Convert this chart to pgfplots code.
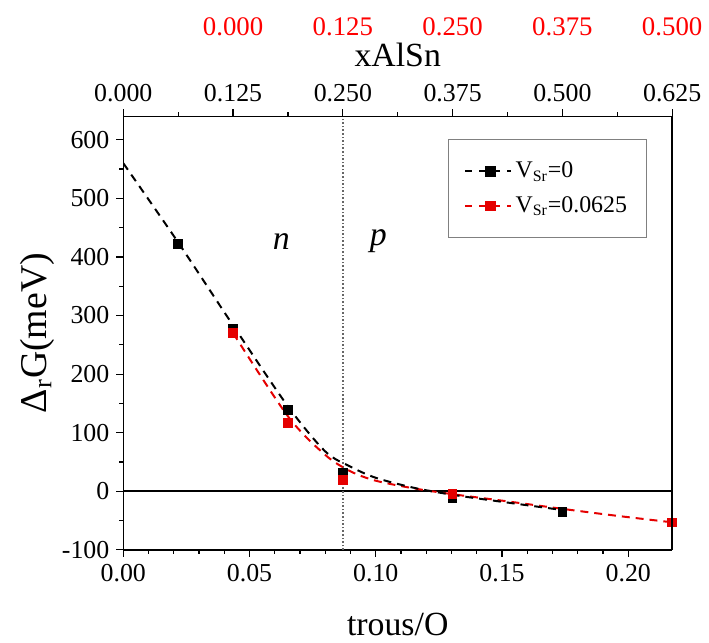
\documentclass[border=0pt]{standalone}
\usepackage{fontspec}
\setmainfont{Liberation Serif}
\usepackage{pgfplots}
\pgfplotsset{compat=1.18}
\pgfplotsset{legend image code/.code={\draw[#1] (0cm,0cm) -- (0.8cm,0cm); \draw[#1] plot coordinates {(0.45cm,0cm)};}}
\begin{document}
\begin{tikzpicture}
\pgfplotsset{
  every axis/.append style={
    /pgf/number format/assume math mode=true,
    tick label style={font=\fontsize{13}{15}\selectfont},
    label style={font=\fontsize{17}{19}\selectfont},
    tick align=outside,
    major tick length=3.5pt,
    minor tick length=2pt,
    every tick/.style={black, line width=0.6pt},
    axis line style={line width=0.8pt},
  }
}
\begin{axis}[
  name=main,
  scale only axis,
  width=276pt, height=218pt,
  xmin=0, xmax=0.2174,
  ymin=-100, ymax=640,
  xtick={0,0.05,0.10,0.15,0.20},
  xticklabels={0.00,0.05,0.10,0.15,0.20},
  minor x tick num=4,
  ytick={-100,0,...,600},
  minor y tick num=1,
  axis x line*=bottom,
  axis y line*=left,
  xlabel={trous/O},
  ylabel={Δ\textsubscript{r}G(meV)},
  xlabel style={yshift=-9pt},
  ylabel style={yshift=-3pt, font=\fontsize{19}{21}\selectfont},
  legend style={at={(rel axis cs:0.955,0.947)}, anchor=north east,
    draw=gray, line width=0.6pt, font=\fontsize{12}{14}\selectfont,
    inner xsep=8pt, inner ysep=9pt, row sep=4pt, cells={anchor=west}},
  legend cell align=left,
]
\addlegendimage{black, line width=1pt, dash pattern=on 3.5pt off 3.5pt, mark=square*, mark size=2.2pt, mark options={solid}}
\addlegendentry{V\textsubscript{Sr}=0}
\addlegendimage{red!90!black, line width=1pt, dash pattern=on 3.5pt off 3.5pt, mark=square*, mark size=2.2pt, mark options={solid}}
\addlegendentry{V\textsubscript{Sr}=0.0625}
% reference lines
\addplot[forget plot, black, line width=1pt] coordinates {(0,0) (0.2174,0)};
\addplot[forget plot, gray!80!black, line width=0.8pt, densely dotted] coordinates {(0.087,-100) (0.087,640)};
% fitted curves
\addplot[forget plot, red!90!black, line width=1pt, dash pattern=on 4pt off 3pt, smooth] coordinates {
(0.0435,270) (0.0652,128) (0.080,62) (0.090,34) (0.100,18) (0.115,5) (0.1304,-5) (0.150,-16) (0.1739,-30) (0.1957,-42) (0.2174,-53)};
\addplot[forget plot, black, line width=1pt, dash pattern=on 4pt off 3pt, smooth] coordinates {
(0,560) (0.0217,425) (0.0435,283) (0.0652,145) (0.080,68) (0.090,42) (0.100,23) (0.115,6) (0.1304,-6) (0.150,-18) (0.1739,-32)};
% markers
\addplot[forget plot, only marks, mark=square*, mark size=2.2pt, black] coordinates {
(0.0217,422) (0.0435,278) (0.0652,139) (0.087,32) (0.1304,-12) (0.1739,-35)};
\addplot[forget plot, only marks, mark=square*, mark size=2.2pt, red!90!black] coordinates {
(0.0435,270) (0.0652,117) (0.087,20) (0.1304,-5) (0.2174,-53)};
\node[font=\fontsize{17}{19}\selectfont\itshape] at (axis cs:0.0626,427) {n};
\node[font=\fontsize{17}{19}\selectfont\itshape] at (axis cs:0.101,427) {p};
\end{axis}
\begin{axis}[
  scale only axis,
  width=276pt, height=218pt,
  at={(main.south west)}, anchor=south west,
  xmin=0, xmax=0.625,
  ymin=0, ymax=1,
  axis x line*=top,
  axis y line*=right,
  ytick=\empty,
  xtick={0,0.125,...,0.625},
  xticklabels={0.000,0.125,0.250,0.375,0.500,0.625},
  minor x tick num=1,
  xlabel={xAlSn},
  xlabel style={yshift=2pt},
  clip=false,
]
\node[red, font=\fontsize{13.5}{15}\selectfont, yshift=45pt] at (axis cs:0.125,1) {0.000};
\node[red, font=\fontsize{13.5}{15}\selectfont, yshift=45pt] at (axis cs:0.25,1) {0.125};
\node[red, font=\fontsize{13.5}{15}\selectfont, yshift=45pt] at (axis cs:0.375,1) {0.250};
\node[red, font=\fontsize{13.5}{15}\selectfont, yshift=45pt] at (axis cs:0.5,1) {0.375};
\node[red, font=\fontsize{13.5}{15}\selectfont, yshift=45pt] at (axis cs:0.625,1) {0.500};
\end{axis}
\path ([xshift=-62pt,yshift=-43.5pt]main.south west) rectangle ([xshift=16.5pt,yshift=58.5pt]main.north east);
\end{tikzpicture}
\end{document}
